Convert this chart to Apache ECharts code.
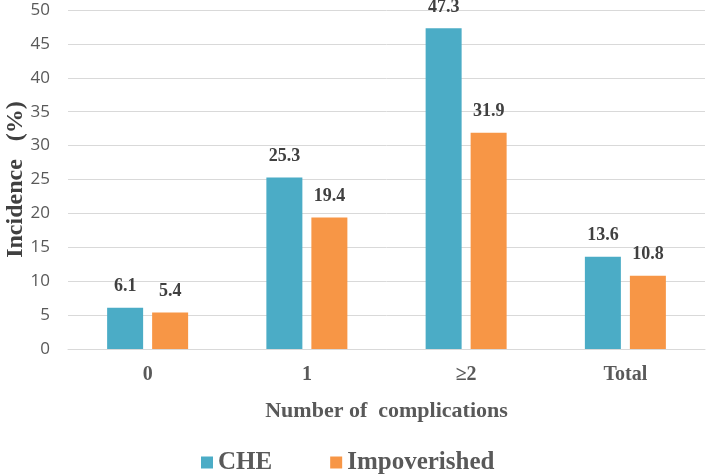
<!DOCTYPE html>
<html><head><meta charset="utf-8">
<script src="https://cdn.jsdelivr.net/npm/echarts@6/dist/echarts.min.js"></script>
<style>html,body{margin:0;padding:0;background:#fff}#c{width:709px;height:475px}</style>
</head><body><div id="c"></div>
<script>
const categories = ['0', '1', '≥2', 'Total'];
const cheValues = [6.1, 25.3, 47.3, 13.6];
const impValues = [5.4, 19.4, 31.9, 10.8];
const yTicks = {min: 0, max: 50, interval: 5};

const serif = '"Liberation Serif", "DejaVu Serif", serif';
const chart = echarts.init(document.getElementById('c'));
const labelStyle = {show: true, position: 'top', distance: 12, fontFamily: serif, fontWeight: 'bold', fontSize: 18, color: '#404040'};
chart.setOption({
  animation: false,
  grid: {left: 68, right: 4, top: 10, bottom: 126, outerBoundsMode: 'none', containLabel: false},
  legend: {
    bottom: -5, left: 196,
    itemWidth: 12, itemHeight: 12, itemGap: 58,
    icon: 'rect',
    textStyle: {fontFamily: serif, fontWeight: 'bold', fontSize: 25, color: '#595959'},
    data: ['CHE', 'Impoverished']
  },
  xAxis: {
    type: 'category', data: categories,
    name: 'Number of  complications', nameLocation: 'middle', nameGap: 51, nameMoveOverlap: false,
    nameTextStyle: {fontFamily: serif, fontWeight: 'bold', fontSize: 22, color: '#595959'},
    axisLine: {show: true, lineStyle: {color: '#d9d9d9'}},
    axisTick: {show: false},
    axisLabel: {margin: 16, fontFamily: serif, fontWeight: 'bold', fontSize: 20, color: '#595959'}
  },
  yAxis: {
    type: 'value', min: yTicks.min, max: yTicks.max, interval: yTicks.interval,
    name: 'Incidence   (%)', nameLocation: 'middle', nameGap: 40, nameRotate: 90, nameMoveOverlap: false,
    nameTextStyle: {fontFamily: serif, fontWeight: 'bold', fontSize: 24, color: '#404040'},
    axisLine: {show: false}, axisTick: {show: false},
    axisLabel: {margin: 18, fontFamily: '"Open Sans", "Liberation Sans", sans-serif', fontSize: 17, color: '#595959'},
    splitLine: {lineStyle: {color: '#d9d9d9', width: 1}}
  },
  series: [
    {name: 'CHE', type: 'bar', data: cheValues, barWidth: 36, barGap: '25%',
     itemStyle: {color: '#4BACC6'}, label: labelStyle},
    {name: 'Impoverished', type: 'bar', data: impValues, barWidth: 36,
     itemStyle: {color: '#F79646'}, label: labelStyle}
  ]
});
</script></body></html>
